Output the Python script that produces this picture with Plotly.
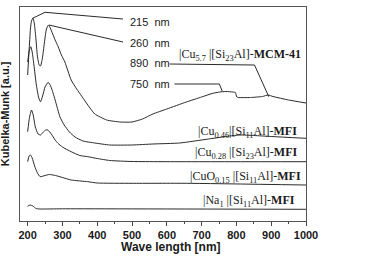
import plotly.graph_objects as go

# ---------------- data ----------------
wl_mcm = [200, 204, 208, 211, 215, 219, 223, 228, 233, 237, 242, 248, 254, 260, 265, 272, 279, 288, 297,
          307, 325, 341, 355, 379, 393, 427, 465, 500, 530, 560, 600, 656, 700, 730, 752, 770, 790, 797,
          801, 805, 840, 875, 891, 905, 950, 1000]
km_mcm = [146, 170, 192, 200, 203, 198, 185, 165, 156, 155, 162, 178, 192, 196, 193, 187, 181, 174, 166,
          159, 141, 132, 125, 113, 107, 101, 99, 99, 102, 107, 112, 119, 124, 127.5, 129, 129.5, 129, 128.5,
          124, 123.5, 123.5, 124.5, 126, 124.5, 121, 118]

wl_cu046 = [200, 205, 209, 213, 218, 225, 232, 237, 243, 250, 259, 266, 273, 279, 293, 305, 320, 336, 359,
            393, 436, 500, 560, 637, 720, 780, 810, 850, 900, 1000]
km_cu046 = [159, 171, 174.3, 169, 156, 136, 123, 119.3, 125, 134, 138.7, 135, 128, 121, 104, 96, 89, 84, 80,
            78, 76, 76, 77, 78, 82, 85, 86, 85.5, 84.5, 82.7]

wl_cu028 = [200, 205, 211, 216, 222, 230, 237, 245, 252, 258, 268, 279, 287, 300, 325, 350, 373, 400,
            436, 500, 656, 1000]
km_cu028 = [89.3, 103, 111, 106, 94, 87, 86, 89, 91, 91, 87, 81, 77.7, 74, 69.3, 65.5, 64.3, 62.5,
            60.5, 59.5, 59.3, 59.3]

wl_cuo015 = [200, 204, 208, 213, 220, 228, 236, 250, 262, 280, 300, 325, 373, 400, 500, 656, 1000]
km_cuo015 = [59.3, 65, 66, 63, 55, 48, 44.3, 45.5, 46.5, 45.5, 43.5, 41, 39.3, 38, 37.7, 37.7, 36]

wl_na1 = [200, 207, 215, 224, 235, 300, 1000]
km_na1 = [14.7, 16, 15, 12.5, 12, 12.2, 11.7]

x_ticks = [200, 300, 400, 500, 600, 700, 800, 900, 1000]

series_labels = [
    "|Cu<sub>5.7</sub> |[Si<sub>23</sub>Al]-<b>MCM-41</b>",
    "|Cu<sub>0.46</sub>|[Si<sub>11</sub>Al]-<b>MFI</b>",
    "|Cu<sub>0.28</sub> |[Si<sub>23</sub>Al]-<b>MFI</b>",
    "|CuO<sub>0.15</sub> |[Si<sub>11</sub>Al]-<b>MFI</b>",
    "|Na<sub>1</sub> |[Si<sub>11</sub>Al]-<b>MFI</b>",
]
label_x = [809, 832, 830, 827, 835]
label_y = [166, 89, 68, 44, 20]

peak_texts = ["215  nm", "260  nm", "890  nm", "750  nm"]
peak_text_x = [488, 488, 488, 488]
peak_text_y = [199.3, 178.3, 157.7, 137.5]
# leader lines (data coords: peak -> elbow -> text)
leader_x = [[214, 250, 474], [261, 474], [608, 852, 893], [622, 751, 759]]
leader_y = [[202.7, 208.7, 202], [196, 179], [157, 156, 124.3], [137, 137, 130]]

# ---------------- figure ----------------
fig = go.Figure()
line_style = dict(color="#2a2a2a", width=1)
for wl, km in [(wl_mcm, km_mcm), (wl_cu046, km_cu046), (wl_cu028, km_cu028),
               (wl_cuo015, km_cuo015), (wl_na1, km_na1)]:
    fig.add_trace(go.Scatter(x=wl, y=km, mode="lines", line=dict(shape="spline", smoothing=0.5, **line_style),
                             showlegend=False, hoverinfo="skip"))

for lx, ly in zip(leader_x, leader_y):
    fig.add_trace(go.Scatter(x=lx, y=ly, mode="lines", line=dict(color="#2a2a2a", width=1),
                             showlegend=False, hoverinfo="skip"))

for t, x, y in zip(series_labels, label_x, label_y):
    fig.add_annotation(x=x, y=y, xref="x", yref="y", text=t, showarrow=False,
                       font=dict(family="Liberation Serif", size=12, color="#1a1a1a"),
                       xanchor="center", yanchor="middle")

for t, x, y in zip(peak_texts, peak_text_x, peak_text_y):
    fig.add_annotation(x=x, y=y, xref="x", yref="y", text=t, showarrow=False,
                       font=dict(family="Liberation Sans", size=11, color="#1a1a1a"),
                       xanchor="left", yanchor="middle")

fig.add_annotation(x=-0.052, y=0.5, xref="paper", yref="paper", text="<b>Kubelka-Munk [a.u.]</b>",
                   textangle=-90, showarrow=False, xanchor="center", yanchor="middle",
                   font=dict(family="Liberation Sans", size=11, color="#1a1a1a"))
fig.add_annotation(x=0.528, y=-0.122, xref="paper", yref="paper", text="<b>Wave length [nm]</b>",
                   showarrow=False, xanchor="center", yanchor="middle",
                   font=dict(family="Liberation Sans", size=12, color="#1a1a1a"))

fig.update_layout(
    width=374, height=256,
    margin=dict(l=20, r=67.5, t=7, b=35),
    paper_bgcolor="white", plot_bgcolor="white",
    xaxis=dict(range=[178, 1000], tickvals=x_ticks, ticktext=[str(v) for v in x_ticks],
               ticks="outside", ticklen=4, tickcolor="#444", tickwidth=1,
               minor=dict(dtick=50, tick0=0, ticks="outside", ticklen=2, tickcolor="#444"),
               showline=True, linecolor="#555", linewidth=1, mirror=True, showgrid=False, zeroline=False,
               tickfont=dict(family="Liberation Sans", size=11, color="#1a1a1a", weight="bold")),
    yaxis=dict(range=[0, 214], showticklabels=False, ticks="", showline=True, linecolor="#555",
               linewidth=1, mirror=True, showgrid=False, zeroline=False),
)

fig.write_html("out.html")
